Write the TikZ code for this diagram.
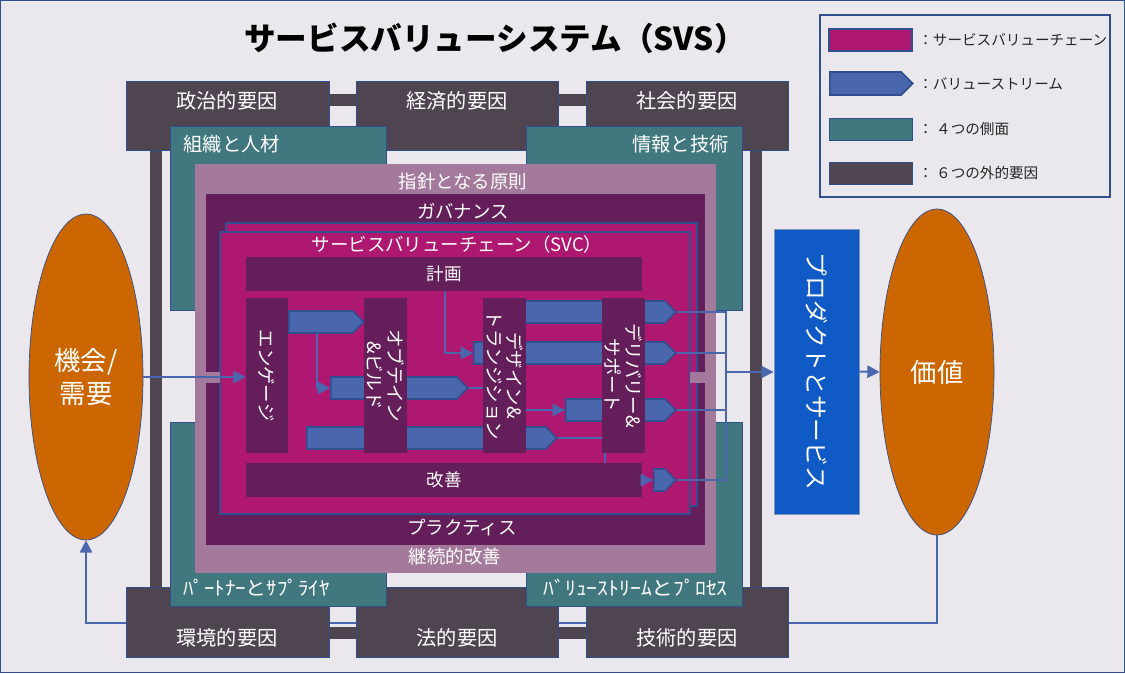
\documentclass[tikz,border=0pt]{standalone}
\usepackage{fontspec}
\setmainfont{Noto Sans CJK JP}
\usetikzlibrary{arrows.meta, positioning, fit, shapes.geometric, shapes.symbols}
\definecolor{bggray}{HTML}{EAE8EC}
\definecolor{edgeblue}{HTML}{2F4F8F}
\definecolor{extgray}{HTML}{4F4551}
\definecolor{aspteal}{HTML}{41787F}
\definecolor{mauve}{HTML}{A37A9B}
\definecolor{govpurple}{HTML}{641F5A}
\definecolor{svcmag}{HTML}{AF1870}
\definecolor{vsblue}{HTML}{4A67AE}
\definecolor{needorange}{HTML}{CC6600}
\definecolor{prodblue}{HTML}{105AC5}
\newlength\upx
\setlength\upx{0.02cm}
\tikzset{
	extbox/.style={draw=edgeblue, fill=extgray, line width=0.5pt, inner sep=0pt},
	aspbox/.style={draw=edgeblue, fill=aspteal, line width=0.5pt, inner sep=0pt},
	actbox/.style={fill=govpurple, inner sep=0pt},
	svcbox/.style={draw=edgeblue, fill=svcmag, line width=0.8pt, inner sep=0pt},
	vsarrow/.style={shape=signal, signal to=east, draw=edgeblue, fill=vsblue, line width=0.9pt,
		inner sep=0pt, anchor=west, minimum height=22\upx},
	wtxt/.style={text=white, font=\fontsize{11.5}{13}\selectfont, inner sep=0pt},
	acttxt/.style={text=white, font=\fontsize{10.5}{11.5}\selectfont, rotate=-90, align=center, inner sep=0pt},
	legtxt/.style={text=black!85, font=\fontsize{8.3}{10}\selectfont, anchor=west, inner sep=0pt},
	flow/.style={draw=vsblue, line width=1.1pt, -{Triangle[length=7pt, width=7pt]}},
	link/.style={draw=vsblue, line width=1.1pt},
	goal/.style={ellipse, draw=edgeblue, fill=needorange, minimum width=114\upx, minimum height=326\upx,
		inner sep=0pt, text=white, align=center, font=\fontsize{15}{19}\selectfont}
}

\begin{document}
\begin{tikzpicture}[x=0.02cm, y=-0.02cm]
	\useasboundingbox (0,0) rectangle (1125,673);
	\fill[bggray] (0,0) rectangle (1125,673);
	\draw[edgeblue, line width=1pt] (0.5,0.5) rectangle (1124.5,672.5);

	% title and legend
	\node[font=\fontsize{18}{20}\selectfont\bfseries, inner sep=0pt] (title) at (495,38) {サービスバリューシステム（SVS）};
	\node[draw=edgeblue, line width=0.6pt, inner sep=0pt, fit={(820,15) (1110,197)}] (legend) {};
	\node[svcbox, fit={(829,29) (912,51)}] (keysvc) {};
	\node[vsarrow, minimum width=83\upx, minimum height=23\upx] (keyvs) at (829,83.5) {};
	\node[aspbox, fit={(829,118) (912,140)}] (keyasp) {};
	\node[extbox, fit={(829,162) (912,184)}] (keyext) {};
	\node[legtxt] at (918,40) {：サービスバリューチェーン};
	\node[legtxt] at (918,84) {：バリューストリーム};
	\node[legtxt] at (918,129) {： ４つの側面};
	\node[legtxt] at (918,173) {： ６つの外的要因};

	% opportunity and value
	\node[goal] (need) at (86,377) {機会/\\需要};
	\node[goal] (value) at (937,372) {価値};
	\draw[flow] (value.south) -- ++(0,88) -| (need.south);

	% external factors
	\draw[extgray, line width=12\upx] (156,100) rectangle (756,633);
	\node[extbox, fit={(126,81) (329,150)}] (pol) {};
	\node[extbox, fit={(356,81) (558,150)}] (eco) {};
	\node[extbox, fit={(586,81) (788,150)}] (soc) {};
	\node[extbox, fit={(126,587) (329,657)}] (env) {};
	\node[extbox, fit={(356,587) (558,657)}] (leg) {};
	\node[extbox, fit={(586,587) (788,657)}] (tec) {};
	\node[wtxt] at (227,101) {政治的要因};
	\node[wtxt] at (457,101) {経済的要因};
	\node[wtxt] at (687,101) {社会的要因};
	\node[wtxt] at (227,638) {環境的要因};
	\node[wtxt] at (457,638) {法的要因};
	\node[wtxt] at (687,638) {技術的要因};

	% four dimensions
	\node[aspbox, fit={(170,126) (386,310)}] (org) {};
	\node[aspbox, fit={(526,126) (742,310)}] (info) {};
	\node[aspbox, fit={(170,422) (386,606)}] (part) {};
	\node[aspbox, fit={(526,422) (742,606)}] (proc) {};
	\node[wtxt, font=\fontsize{11}{13}\selectfont, anchor=west] at (183,144) {組織と人材};
	\node[wtxt, font=\fontsize{11}{13}\selectfont, anchor=east] at (729,144) {情報と技術};
	\node[wtxt, font=\fontsize{11}{13}\selectfont, anchor=west] at (183,588) {\scalebox{1.08}[1]{ﾊﾟｰﾄﾅｰとｻﾌﾟﾗｲﾔ}};
	\node[wtxt, font=\fontsize{11}{13}\selectfont, anchor=east] at (728,588) {\scalebox{1.12}[1]{ﾊﾞﾘｭｰｽﾄﾘｰﾑとﾌﾟﾛｾｽ}};

	% principles, governance, SVC
	\node[fill=mauve, inner sep=0pt, fit={(195,164) (716,573)}] (princ) {};
	\node[fill=govpurple, inner sep=0pt, fit={(206,194) (705,545)}] (gov) {};
	\node[svcbox, fit={(226,223) (697,506)}] (svcback) {};
	\node[svcbox, fit={(220,232) (690,514)}] (svc) {};
	\fill[mauve] (206,372) rectangle (220,383);
	\fill[mauve] (690,372) rectangle (705,383);
	\node[wtxt, font=\fontsize{10.5}{12}\selectfont] at (463,182) {指針となる原則};
	\node[wtxt, font=\fontsize{10.5}{12}\selectfont] at (455,556) {継続的改善};
	\node[wtxt, font=\fontsize{10.5}{12}\selectfont] at (463,211) {ガバナンス};
	\node[wtxt, font=\fontsize{10.5}{12}\selectfont] at (462,528) {プラクティス};
	\node[wtxt, font=\fontsize{10.5}{12}\selectfont] at (457,244) {サービスバリューチェーン（SVC）};

	% value streams
	\node[vsarrow, minimum width=75\upx] (vs1) at (288,322) {};
	\node[vsarrow, minimum width=137\upx] (vs2) at (330,388) {};
	\node[vsarrow, minimum width=250\upx] (vs3) at (306,438) {};
	\node[vsarrow, minimum width=202\upx] (vs4) at (473,353) {};
	\node[vsarrow, minimum width=160\upx] (vs5) at (515,312) {};
	\node[vsarrow, minimum width=110\upx] (vs6) at (565,410) {};
	\node[vsarrow, minimum width=22\upx] (vs7) at (653,480) {};

	% activities
	\node[actbox, fit={(246,257) (642,291)}] (plan) {};
	\node[actbox, fit={(246,298) (288,453)}] (eng) {};
	\node[actbox, fit={(364,298) (407,453)}] (obt) {};
	\node[actbox, fit={(483,298) (526,453)}] (dsn) {};
	\node[actbox, fit={(602,298) (645,453)}] (dlv) {};
	\node[actbox, fit={(246,463) (642,497)}] (imp) {};
	\node[wtxt, font=\fontsize{10}{12}\selectfont] at (plan) {計画};
	\node[wtxt, font=\fontsize{10}{12}\selectfont] at (imp) {改善};
	\node[acttxt] at (eng) {エンゲージ};
	\node[acttxt] at (obt) {オブテイン\\\&ビルド};
	\node[acttxt] at (dsn) {デザイン\&\\トランジション};
	\node[acttxt] at (dlv) {デリバリー\&\\サポート};

	% links inside the chain
	\draw[flow] ([xshift=29\upx]vs1.south west) |- (vs2.west);
	\draw[link] (vs2.east) -- (vs2.east -| dsn.west);
	\draw[flow] ([xshift=199\upx]plan.south west) |- (vs4.west);
	\draw[link] (vs3.east) -- (vs3.east -| dlv.west);
	\draw[flow] (vs6.west -| dsn.east) -- (vs6.west);
	\draw[link] ([xshift=3\upx]dlv.south west) -- ([xshift=3\upx]dlv.south west |- imp.north);
	\draw[flow] (imp.east |- vs7.west) -- (vs7.west);

	% outputs
	\node[fill=prodblue, draw=edgeblue!60, line width=0.5pt, inner sep=0pt, fit={(774,229) (859,514)}] (prod) {};
	\node[acttxt, font=\fontsize{13.5}{16}\selectfont] at (prod) {プロダクトとサービス};
	\coordinate (collect) at (726,372);
	\draw[link] (vs5.east) -| (collect);
	\draw[link] (vs4.east) -| (collect);
	\draw[link] (vs6.east) -| (collect);
	\draw[link] (vs7.east) -| (collect);
	\draw[flow] (collect) -- (collect -| prod.west);
	\draw[flow] (need.east) -- (need.east -| eng.west);
	\draw[flow] (prod.east) -- (value.west);
\end{tikzpicture}
\end{document}
